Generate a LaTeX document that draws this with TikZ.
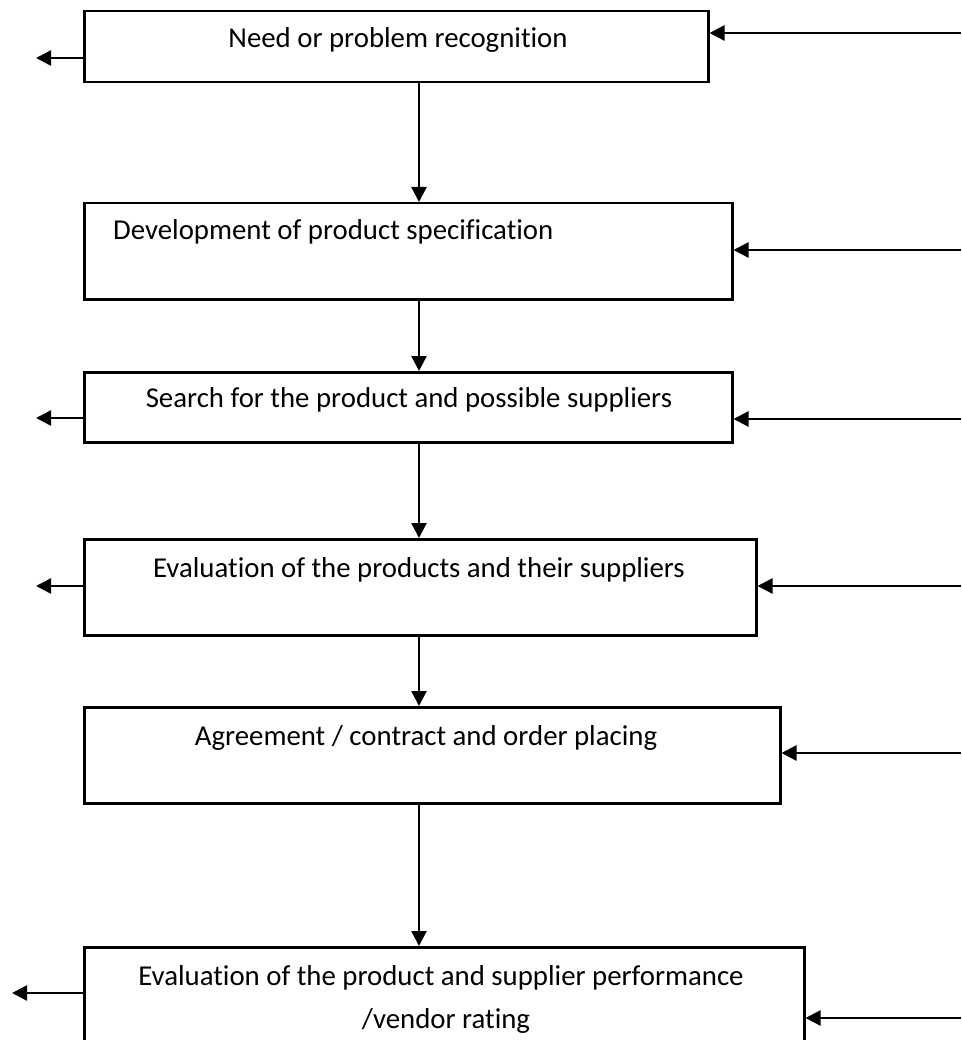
\documentclass[tikz,border=0pt]{standalone}
\usepackage{fontspec}
\setmainfont[Ligatures=NoCommon]{Carlito}
\usetikzlibrary{arrows.meta}

\begin{document}
\begin{tikzpicture}[x=1pt,y=-1pt,
	box/.style={draw,line width=2.5pt,anchor=north west,inner sep=0pt},
	txt/.style={anchor=base,inner sep=0pt,font=\fontsize{28.8}{43}\selectfont},
	flow/.style={line width=2.5pt,-{Triangle[length=15pt,width=15pt]}}]
	\useasboundingbox (0,0) rectangle (961,1040);
	% boxes
	\node[box,minimum width=624pt,minimum height=71pt] (b1) at (83,10) {};
	\node[box,minimum width=648pt,minimum height=96pt] (b2) at (83,202) {};
	\node[box,minimum width=648pt,minimum height=70pt] (b3) at (83,371) {};
	\node[box,minimum width=672pt,minimum height=96pt] (b4) at (83,538) {};
	\node[box,minimum width=696pt,minimum height=96pt] (b5) at (83,706) {};
	\node[box,minimum width=720pt,minimum height=100pt] (b6) at (83,946) {};
	% texts
	\node[txt] (t1) at (398,48) {Need or problem recognition};
	\node[txt,anchor=base west] (t2) at (113,240) {Development of product specification};
	\node[txt] (t3) at (409,407) {Search for the product and possible suppliers};
	\node[txt] (t4) at (419,577) {Evaluation of the products and their suppliers};
	\node[txt] (t5) at (426,745) {Agreement / contract and order placing};
	\node[txt] (t6) at (441,985) {Evaluation of the product and supplier performance};
	\node[txt] (t7) at (446,1028) {/vendor rating};
	% main flow
	\coordinate (spine) at (419,0);
	\foreach \a/\b in {b1/b2,b2/b3,b3/b4,b4/b5,b5/b6}
		\draw[flow] (\a.south -| spine) -- (\b.north -| spine);
	% outputs on the left
	\coordinate (o1) at (36,58);
	\coordinate (o3) at (36,418);
	\coordinate (o4) at (36,586);
	\coordinate (o6) at (12,993);
	\foreach \n in {1,3,4,6}
		\draw[flow] (o\n -| b\n.west) -- (o\n);
	% inputs from the right
	\coordinate (i1) at (961,33);
	\coordinate (i2) at (961,250);
	\coordinate (i3) at (961,419);
	\coordinate (i4) at (961,586);
	\coordinate (i5) at (961,753);
	\coordinate (i6) at (961,1018);
	\foreach \n in {1,...,6}
		\draw[flow] (i\n) -- (i\n -| b\n.east);
\end{tikzpicture}
\end{document}
